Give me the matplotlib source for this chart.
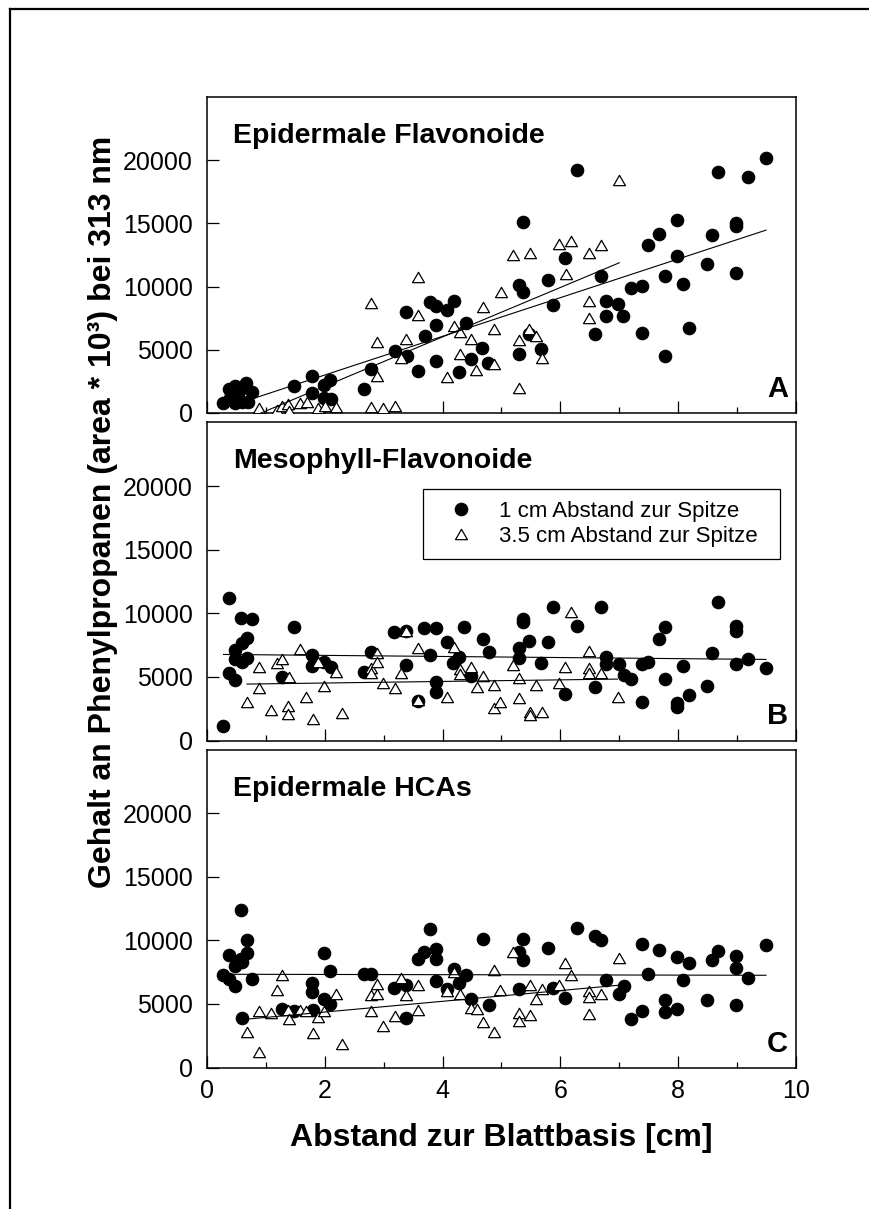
import matplotlib
matplotlib.use("Agg")
import matplotlib.pyplot as plt
from matplotlib.lines import Line2D
from matplotlib.ticker import MultipleLocator
import numpy as np

plt.rcParams["font.family"] = ["Liberation Sans", "DejaVu Sans"]

# ---- data (x in cm, y in area*10^3) ----
# panel A: Epidermale Flavonoide
a_circ_x = [0.28, 0.38, 0.47, 0.59, 0.67, 0.77, 0.47, 0.59, 0.69, 0.39, 0.53, 1.47, 1.79, 1.79, 1.98,
            2.08, 1.98, 2.10, 2.67, 2.78, 3.19, 3.38, 3.40, 3.58, 3.70, 3.78, 3.89, 3.88, 3.89, 4.08,
            4.19, 4.28, 4.39, 4.49, 4.67, 4.77, 6.28, 5.37, 6.08, 5.29, 5.37, 5.79, 6.69, 5.88, 5.47,
            5.67, 5.29, 6.77, 6.97, 6.77, 7.07, 6.59, 7.20, 7.38, 7.48, 7.68, 7.98, 7.98, 7.78, 8.08,
            7.38, 7.78, 8.18, 8.49, 8.57, 8.98, 8.98, 8.98, 8.68, 9.18, 9.49]
a_circ_y = [761, 1890, 2153, 1995, 2336, 1680, 761, 840, 840, 1155, 1496, 2126, 2914, 1601, 2205,
            2599, 1155, 1076, 1890, 3517, 4909, 7980, 4515, 3307, 6064, 8768, 8426, 6930, 4121, 8164,
            8846, 3255, 7140, 4305, 5145, 3964, 19215, 15120, 12233, 10159, 9555, 10526, 10868, 8505, 6274,
            5093, 4699, 8846, 8636, 7665, 7665, 6274, 9870, 10080, 13283, 14149, 15251, 12443, 10815, 10211,
            6326, 4515, 6746, 11786, 14096, 15015, 14805, 11051, 19057, 18664, 20186]
a_tri_x = [0.89, 1.18, 1.28, 1.38, 1.40, 1.58, 1.69, 1.89, 2.00, 2.19, 2.79, 2.88, 2.89, 2.79, 2.98,
           3.19, 3.29, 3.38, 3.58, 3.58, 4.19, 4.29, 4.29, 4.49, 4.08, 4.57, 4.68, 4.88, 4.88, 4.99,
           5.19, 5.49, 5.98, 6.18, 6.49, 6.69, 6.09, 7.00, 6.48, 6.48, 5.47, 5.59, 5.29, 5.69, 5.29]
a_tri_y = [367, 236, 551, 709, 184, 814, 893, 367, 551, 446, 8715, 5618, 2914, 446, 367,
           551, 4358, 5880, 10789, 7770, 6851, 6405, 4699, 5880, 2861, 3439, 8374, 6668, 3911, 9555,
           12495, 12653, 13361, 13624, 12626, 13283, 10999, 18401, 8899, 7508, 6668, 6090, 5749, 4358, 1995]

# panel B: Mesophyll-Flavonoide
b_circ_x = [0.38, 0.28, 0.38, 0.47, 0.47, 0.59, 0.68, 0.47, 0.59, 0.68, 0.57, 0.77, 1.48, 1.27, 1.79,
            1.79, 1.98, 2.10, 2.66, 2.78, 3.18, 3.38, 3.68, 3.88, 3.78, 3.88, 3.88, 4.08, 4.18, 4.28,
            4.37, 4.49, 4.68, 4.79, 3.38, 3.58, 5.29, 5.29, 5.37, 5.37, 5.47, 5.79, 5.67, 5.88, 6.28,
            6.08, 6.69, 6.59, 6.77, 6.77, 6.99, 7.08, 7.20, 7.38, 7.48, 7.38, 7.68, 7.78, 7.78, 8.08,
            7.98, 7.98, 8.18, 8.49, 8.57, 8.68, 8.98, 8.98, 8.98, 9.18, 9.49]
b_circ_y = [11240, 1164, 5273, 4750, 7105, 7681, 8021, 6373, 6190, 6452, 9644, 9513, 8885, 5011, 6713,
            5849, 6190, 5797, 5404, 6922, 8545, 5927, 8807, 8807, 6713, 4619, 3834, 7759, 6059, 6530,
            8885, 5064, 7942, 6975, 8624, 3100, 7288, 6504, 9513, 9330, 7811, 7759, 6059, 10507, 8990,
            3651, 10507, 4226, 5980, 6582, 5980, 5143, 4829, 5980, 6190, 3049, 7968, 8938, 4829, 5849,
            2918, 2656, 3546, 4305, 6844, 10899, 8990, 8624, 5980, 6373, 5666]
b_tri_x = [0.68, 0.89, 0.89, 1.08, 1.19, 1.28, 1.38, 1.38, 1.40, 1.58, 1.68, 1.80, 1.89, 1.99, 2.19,
           2.29, 2.78, 2.78, 2.88, 2.89, 2.98, 3.19, 3.29, 3.38, 3.58, 3.58, 4.08, 4.19, 4.29, 4.29,
           4.49, 4.59, 4.68, 4.88, 4.88, 4.98, 5.19, 5.29, 5.29, 5.49, 5.49, 5.69, 5.59, 5.98, 6.08,
           6.18, 6.48, 6.48, 6.48, 6.69, 6.97]
b_tri_y = [3048, 4095, 5797, 2394, 6059, 6373, 2708, 2054, 4959, 7157, 3388, 1662, 6137, 4305, 5404,
           2185, 5666, 5273, 6844, 6190, 4488, 4095, 5273, 8624, 3180, 7236, 3388, 7367, 5588, 5220,
           5745, 4226, 5064, 4357, 2525, 3049, 5927, 4881, 3363, 2264, 2000, 2264, 4357, 4488, 5745,
           10063, 7053, 5666, 5326, 5273, 3388]

# panel C: Epidermale HCAs
c_circ_x = [0.28, 0.38, 0.47, 0.38, 0.47, 0.57, 0.59, 0.68, 0.68, 0.57, 0.77, 0.59, 1.27, 1.48, 1.79,
            1.79, 1.80, 1.98, 2.08, 1.98, 2.08, 2.66, 2.78, 3.18, 3.38, 3.38, 3.58, 3.68, 3.88, 3.88,
            3.78, 3.88, 4.08, 4.19, 4.28, 4.39, 4.49, 4.68, 4.79, 5.29, 5.37, 5.37, 5.29, 5.79, 5.88,
            6.08, 6.28, 6.59, 6.69, 6.77, 6.99, 7.08, 7.20, 7.38, 7.38, 7.48, 7.68, 7.78, 7.78, 7.98,
            7.98, 8.08, 8.18, 8.49, 8.57, 8.68, 8.98, 8.98, 8.98, 9.18, 9.49]
c_circ_y = [7251, 6990, 6415, 8819, 7983, 8558, 8297, 9028, 9995, 12346, 6938, 3854, 4638, 4455, 6676,
            5945, 4507, 5422, 5030, 9002, 7591, 7356, 7356, 6258, 6467, 3907, 8558, 9080, 9289, 8558,
            10910, 6807, 6206, 7774, 6676, 7303, 5422, 10126, 4951, 9080, 8427, 10073, 6206, 9420, 6258,
            5474, 10962, 10309, 9995, 6859, 5814, 6415, 3802, 4455, 9681, 7382, 9211, 5291, 4377, 4638,
            8688, 6911, 8218, 5343, 8479, 9132, 8741, 7826, 4951, 7068, 9655]
c_tri_x = [0.68, 0.89, 0.89, 1.08, 1.19, 1.28, 1.38, 1.40, 1.58, 1.68, 1.80, 1.89, 1.99, 2.19, 2.29,
           2.78, 2.78, 2.88, 2.89, 2.98, 3.19, 3.29, 3.38, 3.58, 3.58, 4.08, 4.19, 4.29, 4.49, 4.59,
           4.68, 4.88, 4.88, 4.98, 5.19, 5.29, 5.29, 5.49, 5.49, 5.59, 5.69, 5.98, 6.08, 6.18, 6.48,
           6.48, 6.48, 6.69, 6.99]
c_tri_y = [2757, 1241, 4455, 4246, 6075, 7251, 4507, 3802, 4507, 4455, 2678, 3933, 4455, 5814, 1816,
           4455, 5735, 6598, 5814, 3280, 4063, 7042, 5735, 6520, 4507, 6023, 7513, 5814, 4690, 4638,
           3593, 7643, 2809, 6075, 9080, 4246, 3645, 4115, 6520, 5369, 6206, 6467, 8244, 7303, 5997,
           5553, 4168, 5814, 8636]

# regression lines: (intercept, slope)
fit_circ = [(-54, 1530), (6777, -42.6), (7332, -8.6)]
fit_tri = [(-1793, 1954), (4394, 62.3), (3515, 422.3)]

titles = ["Epidermale Flavonoide", "Mesophyll-Flavonoide", "Epidermale HCAs"]
letters = ["A", "B", "C"]
legend_labels = ["1 cm Abstand zur Spitze", "3.5 cm Abstand zur Spitze"]

circ_x = [a_circ_x, b_circ_x, c_circ_x]
circ_y = [a_circ_y, b_circ_y, c_circ_y]
tri_x = [a_tri_x, b_tri_x, c_tri_x]
tri_y = [a_tri_y, b_tri_y, c_tri_y]

# ---- figure ----
W, H = 870, 1209
fig = plt.figure(figsize=(W / 100, H / 100), dpi=100)

# outer frame (only left and top edges are visible)
fig.add_artist(Line2D([10 / W, 10 / W], [0, 1 - 9 / H], transform=fig.transFigure, color="black", lw=1.6))
fig.add_artist(Line2D([10 / W, 1], [1 - 9 / H, 1 - 9 / H], transform=fig.transFigure, color="black", lw=1.6))

# panel boxes in pixels: (bottom, height)
boxes = [(413, 316), (740.5, 318), (1067.5, 318)]
left, right = 207, 796

tri_marker = [(-1, -0.866), (1, -0.866), (0, 0.866), (-1, -0.866)]

for i in range(3):
    bot, hgt = boxes[i]
    ax = fig.add_axes([left / W, 1 - bot / H, (right - left) / W, hgt / H])
    ax.set_xlim(0, 10)
    ax.set_ylim(0, 25000)

    h1, = ax.plot(circ_x[i], circ_y[i], linestyle="none", marker="o", ms=9,
                  mfc="black", mec="black", mew=0.8, zorder=3, label=legend_labels[0])
    h2, = ax.plot(tri_x[i], tri_y[i], linestyle="none", marker=tri_marker, ms=8.6,
                  mfc="white", mec="black", mew=0.9, zorder=4, label=legend_labels[1])

    b0, m0 = fit_circ[i]
    xs = np.array([min(circ_x[i]), max(circ_x[i])])
    ax.plot(xs, b0 + m0 * xs, color="black", lw=0.8, zorder=5)
    b1, m1 = fit_tri[i]
    xs = np.array([min(tri_x[i]), max(tri_x[i])])
    ax.plot(xs, b1 + m1 * xs, color="black", lw=0.8, zorder=5)

    ax.set_xticks([0, 2, 4, 6, 8, 10])
    ax.xaxis.set_minor_locator(MultipleLocator(1))
    ax.set_yticks([0, 5000, 10000, 15000, 20000])
    ax.tick_params(which="major", direction="in", length=8.6, width=0.9,
                   labelsize=18, top=False, right=False)
    ax.tick_params(axis="y", pad=10)
    ax.tick_params(axis="x", pad=8)
    ax.tick_params(which="minor", direction="in", length=4.3, width=0.9, top=False)
    if i < 2:
        ax.tick_params(axis="x", labelbottom=False)
    for sp in ax.spines.values():
        sp.set_linewidth(1.1)

    ax.text(26 / (right - left), 1 - 46 / hgt, titles[i], transform=ax.transAxes,
            fontsize=20.5, fontweight="bold", ha="left", va="baseline")
    ax.text(1 - 8 / (right - left), 16 / hgt, letters[i], transform=ax.transAxes,
            fontsize=21, fontweight="bold", ha="right", va="baseline")

    if i == 1:
        ax.legend(handles=[h1, h2], loc="upper left",
                  bbox_to_anchor=(216 / 589, 0.555, 357 / 589, 0.236),
                  mode="expand", borderaxespad=0, fontsize=16, frameon=True,
                  fancybox=False, edgecolor="black", framealpha=1,
                  handlelength=2.3, handletextpad=0.55, borderpad=0.55,
                  labelspacing=0.15)
        ax.get_legend().get_frame().set_linewidth(0.9)

fig.text(103 / W, 1 - 512 / H, "Gehalt an Phenylpropanen (area * 10³) bei 313 nm",
         rotation=90, ha="center", va="center", fontsize=23, fontweight="bold")
fig.text(501 / W, 1 - 1138 / H, "Abstand zur Blattbasis [cm]",
         ha="center", va="center", fontsize=23, fontweight="bold")

fig.savefig("out.png", dpi=100)
